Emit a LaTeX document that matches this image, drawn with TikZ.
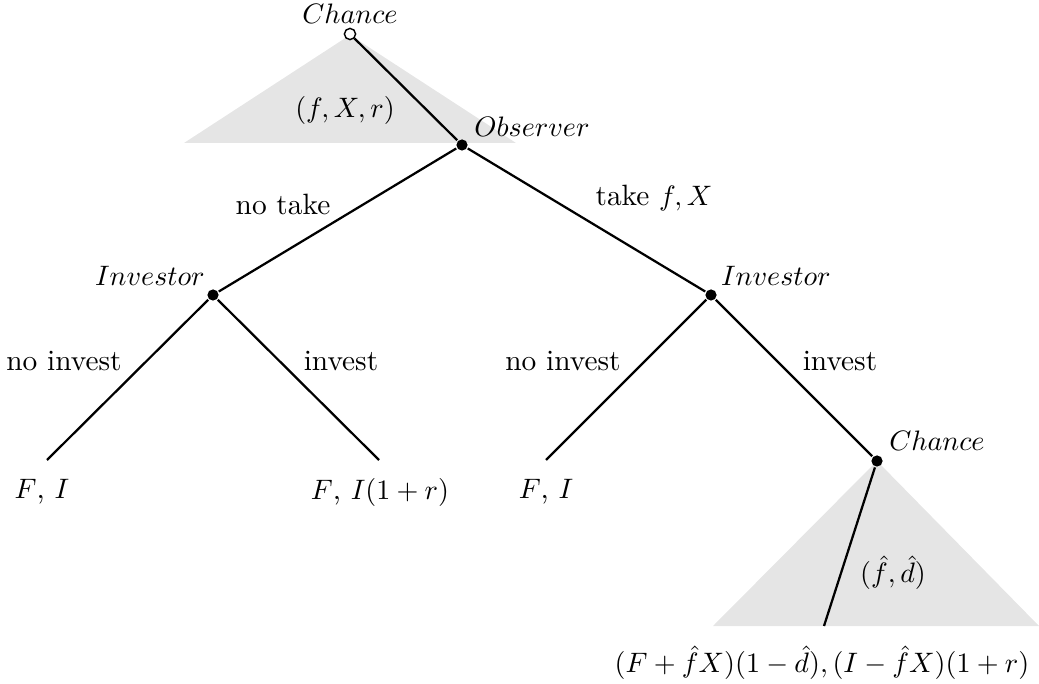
\documentclass[tikz,border=0pt]{standalone}
\usepackage{amsmath}

\begin{document}
\begin{tikzpicture}[thick, font=\fontsize{10.45}{12.5}\selectfont,
  dot/.style={circle, fill=black, inner sep=0pt, minimum size=1.4mm},
  opendot/.style={circle, draw=black, fill=white, line width=0.5pt, inner sep=0pt, minimum size=1.4mm},
  shade/.style={fill=black!10, draw=none}]
  \useasboundingbox (0,0) rectangle (12.9875,-8.55);

  % Shaded chance moves
  \fill[shade] (4.375,-0.4375) -- (2.3,-1.7875) -- (6.45,-1.7875) -- cycle;
  \fill[shade] (10.9625,-5.7625) -- (8.9125,-7.825) -- (12.9875,-7.825) -- cycle;

  % Decision nodes
  \node[dot] (obs) at (5.775,-1.8125) {};
  \node[dot] (invl) at (2.6625,-3.6875) {};
  \node[dot] (invr) at (8.8875,-3.6875) {};
  \node[dot] (chr) at (10.9625,-5.7625) {};
  \coordinate (ll) at (0.5875,-5.75);
  \coordinate (lr) at (4.7375,-5.75);
  \coordinate (rl) at (6.825,-5.75);
  \coordinate (rr) at (10.3,-7.825);

  % Branches
  \draw (obs) -- (invl);
  \draw (obs) -- (invr);
  \draw (invl) -- (ll);
  \draw (invl) -- (lr);
  \draw (invr) -- (rl);
  \draw (invr) -- (chr);
  \draw (chr) -- (rr);
  \node[opendot] (root) at (4.375,-0.425) {};
  \draw (root) -- (obs);

  % Player names
  \node (rootname) at (4.375,-0.175) {$Chance$};
  \node (obsname) at (6.65,-1.5875) {$Observer$};
  \node (invlname) at (1.875,-3.45) {$Investor$};
  \node (invrname) at (9.7,-3.45) {$Investor$};
  \node (chrname) at (11.7125,-5.5125) {$Chance$};

  % Actions
  \node (notake) at (3.5375,-2.55) {no take};
  \node (take) at (8.175,-2.475) {take $f, X$};
  \node (noinvl) at (0.8,-4.5125) {no invest};
  \node (invlact) at (4.2625,-4.5125) {invest};
  \node (noinvr) at (7.0375,-4.5125) {no invest};
  \node (invract) at (10.5,-4.5125) {invest};
  \node (drawtop) at (4.3125,-1.375) {$(f, X, r)$};
  \node (drawbot) at (11.1625,-7.1625) {$(\hat{f}, \hat{d})$};

  % Payoffs
  \node (payll) at (0.525,-6.15) {$F$, $I$};
  \node (paylr) at (4.75,-6.15) {$F$, $I(1+r)$};
  \node (payrl) at (6.825,-6.15) {$F$, $I$};
  \node (payrr) at (10.275,-8.2875) {$(F+\hat{f}X)(1-\hat{d}), (I-\hat{f}X)(1+r)$};
\end{tikzpicture}
\end{document}
